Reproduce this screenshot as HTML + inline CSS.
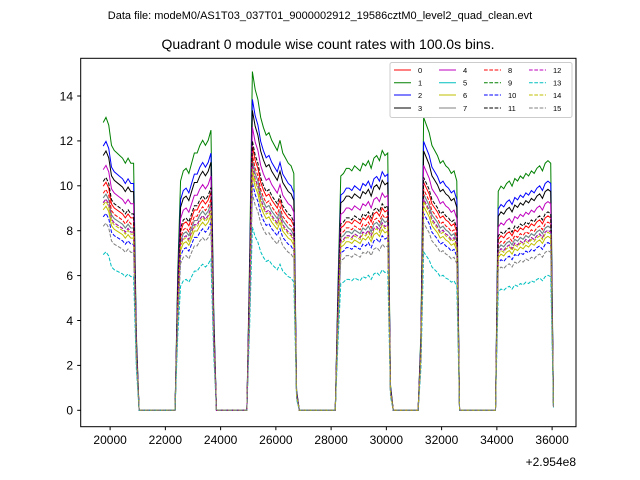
<!DOCTYPE html>
<html><head><meta charset="utf-8"><style>
body{margin:0;background:#fff;}
svg{display:block;font-family:"Liberation Sans","DejaVu Sans",sans-serif;}
</style></head><body>
<svg id="chart" width="640" height="480">
<text x="320" y="19" font-size="11" text-anchor="middle">Data file: modeM0/AS1T03_037T01_9000002912_19586cztM0_level2_quad_clean.evt</text>
<text x="328" y="49" font-size="14" text-anchor="middle">Quadrant 0 module wise count rates with 100.0s bins.</text>
<g id="plot"></g>
<rect x="80.7" y="58.3" width="495.3" height="368.4" fill="none" stroke="#000" stroke-width="1"/>
<g id="xt"></g>
<g id="yt"></g>
<text x="576" y="466" font-size="12" text-anchor="end">+2.954e8</text>
<g id="legend"></g>
</svg>
<script>
const xTicks=[20000,22000,24000,26000,28000,30000,32000,34000,36000];
const yTicks=[0,2,4,6,8,10,12,14];
const tStart=19750, tStep=100;
const baseLevel=9.3;
const profile=[
1.13,1.15,1.12,1.04,1.02,1.01,1.0,0.99,0.97,0.99,0.97,0.97,
0.3,
0,0,0,0,0,0,0,0,0,0,0,0,0,0,
0.55,
0.90,0.94,0.95,0.93,0.97,1.01,1.01,1.04,1.06,1.04,1.06,1.10,
0.4,
0,0,0,0,0,0,0,0,0,0,0,0,
0.6,
1.33,1.26,1.22,1.15,1.11,1.08,1.09,1.06,1.04,1.02,1.06,1.01,0.99,0.97,0.96,0.93,
0.08,
0,0,0,0,0,0,0,0,0,0,0,0,0,0,
0.5,
0.92,0.93,0.95,0.95,0.94,0.96,0.95,0.94,0.97,0.96,0.98,0.95,0.99,1.0,0.98,1.02,1.0,1.01,
0.1,
0,0,0,0,0,0,0,0,0,0,
0.3,
1.15,1.12,1.09,1.04,1.02,1.0,0.97,0.98,0.96,0.95,0.93,0.94,0.9,
0,
0,0,0,0,0,0,0,0,0,0,0,0,0,
0.86,0.88,0.87,0.89,0.9,0.88,0.91,0.9,0.92,0.91,0.93,0.92,0.94,0.93,0.95,0.96,0.94,0.97,0.98,0.97,
0.02];
const seriesNames=['0','1','2','3','4','5','6','7','8','9','10','11','12','13','14','15'];
const seriesScale=[0.95,1.22,1.12,1.08,1.02,0.90,0.85,0.90,0.92,0.88,0.82,0.97,0.88,0.66,0.87,0.78];
const colors=['#ff0000','#008000','#0000ff','#000000','#bf00bf','#00bfbf','#bfbf00','#808080'];

const NS='http://www.w3.org/2000/svg';
const X0=80.7,X1=576,xmin=18935,xmax=36865;
const xs=t=>X0+(t-xmin)/(xmax-xmin)*(X1-X0);
const ys=v=>410.3-v*22.45;
function mk(tag,attrs,parent){const e=document.createElementNS(NS,tag);for(const k in attrs)e.setAttribute(k,attrs[k]);parent.appendChild(e);return e;}
const plot=document.getElementById('plot');
for(let s=0;s<16;s++){
  const pts=profile.map((p,i)=>xs(tStart+i*tStep).toFixed(2)+','+ys(p*seriesScale[s]*baseLevel).toFixed(2)).join(' ');
  const a={points:pts,fill:'none',stroke:colors[s%8],'stroke-width':1};
  if(s>=8)a['stroke-dasharray']='3.7,1.6';
  const l=mk('polyline',a,plot);
  
  
}
const xt=document.getElementById('xt');
xTicks.forEach(t=>{const x=xs(t);
  const tk=mk('line',{x1:x,x2:x,y1:426.7,y2:430.2,stroke:'#000'},xt);
  
  
  const tx=mk('text',{x:x,y:444,'font-size':12,'text-anchor':'middle'},xt);tx.textContent=t;
  
  
});
const yt=document.getElementById('yt');
yTicks.forEach(v=>{const y=ys(v);
  const tk=mk('line',{x1:77.2,x2:80.7,y1:y,y2:y,stroke:'#000'},yt);
  
  
  const tx=mk('text',{x:73,y:y+4.3,'font-size':12,'text-anchor':'end'},yt);tx.textContent=v;
  
  
});
const lg=document.getElementById('legend');
const box=mk('rect',{x:390,y:62.5,width:182,height:55,rx:2,fill:'#fff','fill-opacity':0.8,stroke:'#ccc'},lg);


const rowsY=[70,82.7,95,108];
seriesNames.forEach((n,s)=>{const c=Math.floor(s/4),r=s%4;const x=394+c*45,y=rowsY[r];
  const a={x1:x,x2:x+17,y1:y,y2:y,stroke:colors[s%8],'stroke-width':1};
  if(s>=8)a['stroke-dasharray']='3.7,1.6';
  const l=mk('line',a,lg);
  
  
  const t=mk('text',{x:x+24,y:y+2.8,'font-size':7.5},lg);t.textContent=n;
  
  
});
</script>
</body></html>
